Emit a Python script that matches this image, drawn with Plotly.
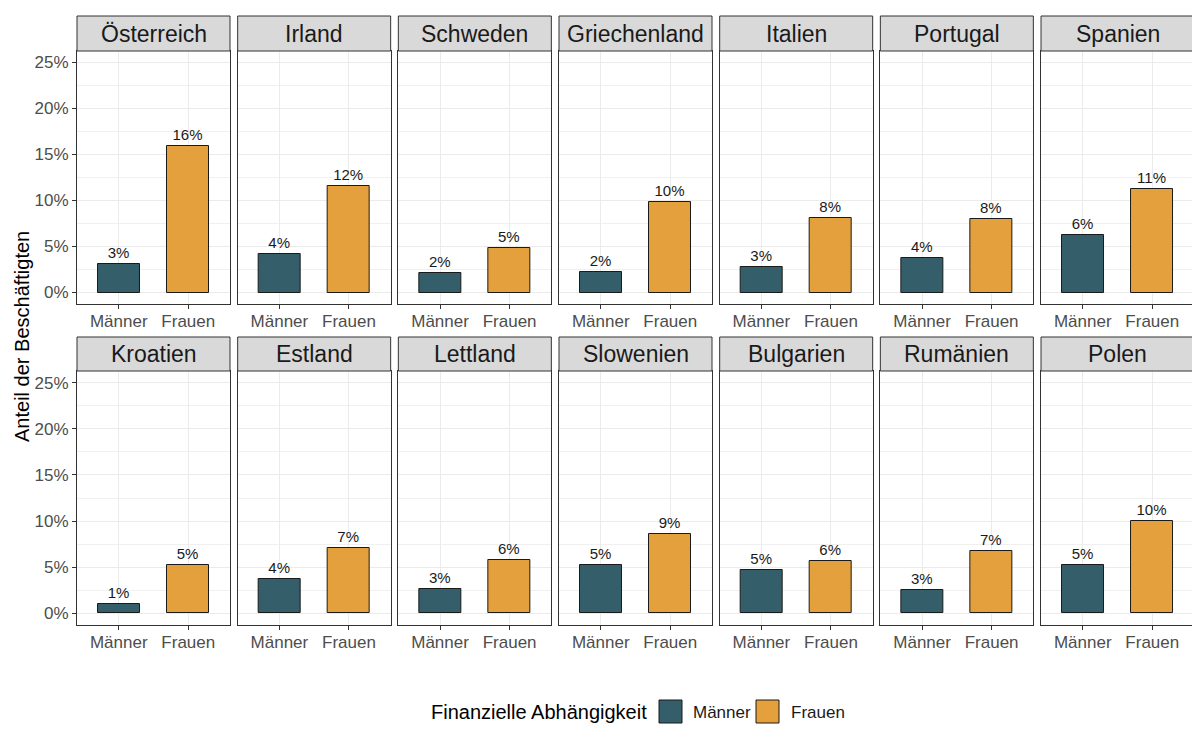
import math
import plotly.graph_objects as go

# ---------------- data ----------------
countries = ["Österreich", "Irland", "Schweden", "Griechenland", "Italien", "Portugal", "Spanien",
             "Kroatien", "Estland", "Lettland", "Slowenien", "Bulgarien", "Rumänien", "Polen"]
maenner = [3.1, 4.15, 2.15, 2.25, 2.8, 3.7, 6.3,
           1.05, 3.7, 2.7, 5.3, 4.75, 2.55, 5.2]
frauen = [15.95, 11.6, 4.85, 9.85, 8.15, 8.0, 11.2,
          5.2, 7.1, 5.8, 8.55, 5.7, 6.75, 10.05]
categories = ["Männer", "Frauen"]
y_ticks = [0, 5, 10, 15, 20, 25]
y_ticktext = ["0%", "5%", "10%", "15%", "20%", "25%"]
legend_title = "Finanzielle Abhängigkeit"
y_title = "Anteil der Beschäftigten"

# ---------------- style ----------------
OFF = 8  # page body margin
W, H = 1200 - OFF, 741 - OFF
C_M = "#345E6A"
C_F = "#E3A03D"
FONT = "Liberation Sans, Arial, sans-serif"
GRID = "#EBEBEB"
BORDER = "#333333"

def px(x):
    return (x - OFF) / W

def py(y):
    return 1 - (y - OFF) / H

def lab(v):
    return f"{int(math.floor(v + 0.5))}%"

ncol = 7
left0, step, pw = 77.0, 160.67, 153.0
rows_geo = [dict(strip_top=16, top=51, bottom=304), dict(strip_top=337, top=371, bottom=625)]

fig = go.Figure()
shapes = []
annotations = []
layout_axes = {}

for k, country in enumerate(countries):
    r, c = divmod(k, ncol)
    g = rows_geo[r]
    x0 = left0 + c * step
    x1 = x0 + pw
    idx = k + 1
    xa = f"x{idx}" if idx > 1 else "x"
    ya = f"y{idx}" if idx > 1 else "y"
    xk = f"xaxis{idx}" if idx > 1 else "xaxis"
    yk = f"yaxis{idx}" if idx > 1 else "yaxis"
    vals = [maenner[k], frauen[k]]
    fig.add_trace(go.Bar(
        x=categories, y=vals, xaxis=xa, yaxis=ya,
        width=0.6,
        marker=dict(color=[C_M, C_F], line=dict(color="#1A1A1A", width=1)),
        text=[lab(v) for v in vals], textposition="outside",
        textfont=dict(family=FONT, size=15, color="#1A1A1A"),
        cliponaxis=False, showlegend=False, hoverinfo="skip",
    ))
    layout_axes[xk] = dict(
        domain=[px(x0), px(x1)], anchor=ya, type="category",
        categoryorder="array", categoryarray=categories,
        range=[-0.6, 1.6], showgrid=True, gridcolor=GRID, gridwidth=1,
        showline=True, mirror=True, linecolor=BORDER, linewidth=1,
        ticks="outside", ticklen=4, tickcolor=BORDER, ticklabelstandoff=-2,
        tickfont=dict(family=FONT, size=17, color="#4D4D4D"),
        zeroline=False, fixedrange=True,
    )
    layout_axes[yk] = dict(
        domain=[py(g["bottom"]), py(g["top"])], anchor=xa,
        range=[-1.25, 26.25], tickvals=y_ticks, ticktext=y_ticktext,
        showticklabels=(c == 0), ticks="outside" if c == 0 else "",
        ticklen=4, tickcolor=BORDER,
        tickfont=dict(family=FONT, size=17, color="#4D4D4D"),
        showgrid=True, gridcolor=GRID, gridwidth=1,
        minor=dict(tickvals=[2.5, 7.5, 12.5, 17.5, 22.5], showgrid=True,
                   gridcolor="#F0F0F0", gridwidth=0.6, ticks=""),
        showline=True, mirror=True, linecolor=BORDER, linewidth=1,
        zeroline=False, fixedrange=True,
    )
    # strip
    shapes.append(dict(type="rect", xref="paper", yref="paper",
                       x0=px(x0), x1=px(x1), y0=py(g["top"]), y1=py(g["strip_top"]),
                       fillcolor="#D9D9D9", line=dict(color=BORDER, width=1), layer="above"))
    annotations.append(dict(text=country, xref="paper", yref="paper",
                            x=px((x0 + x1) / 2), y=py((g["strip_top"] + g["top"]) / 2),
                            xanchor="center", yanchor="middle", showarrow=False,
                            font=dict(family=FONT, size=23, color="#1A1A1A")))

# y axis title
annotations.append(dict(text=y_title, xref="paper", yref="paper", x=px(22), y=py(337),
                        textangle=-90, xanchor="center", yanchor="middle", showarrow=False,
                        font=dict(family=FONT, size=20, color="#000000")))

# legend (manual)
annotations.append(dict(text=legend_title, xref="paper", yref="paper", x=px(649), y=py(712),
                        xanchor="right", yanchor="middle", showarrow=False,
                        font=dict(family=FONT, size=20, color="#000000")))
for (kx0, tx, name, col) in [(659, 691, categories[0], C_M), (756, 789, categories[1], C_F)]:
    shapes.append(dict(type="rect", xref="paper", yref="paper",
                       x0=px(kx0), x1=px(kx0 + 23), y0=py(723), y1=py(700),
                       fillcolor=col, line=dict(color="#1A1A1A", width=1)))
    annotations.append(dict(text=name, xref="paper", yref="paper", x=px(tx), y=py(712),
                            xanchor="left", yanchor="middle", showarrow=False,
                            font=dict(family=FONT, size=17, color="#1A1A1A")))

fig.update_layout(
    width=W, height=H, margin=dict(l=0, r=0, t=0, b=0),
    paper_bgcolor="white", plot_bgcolor="white",
    shapes=shapes, annotations=annotations,
    font=dict(family=FONT), bargap=0,
    **layout_axes,
)

fig.write_html("out.html")
